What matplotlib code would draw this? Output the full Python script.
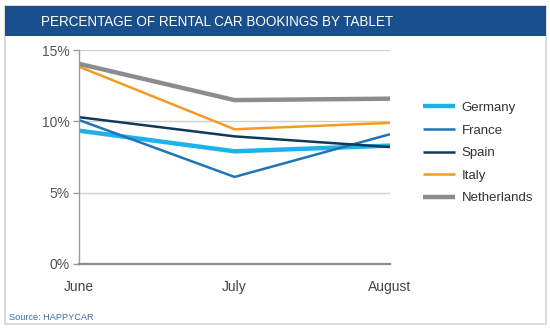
import matplotlib
matplotlib.use("Agg")
from matplotlib import pyplot as plt
from matplotlib.patches import Rectangle
from matplotlib.ticker import FuncFormatter

plt.rcParams['font.family'] = ['Liberation Sans', 'DejaVu Sans']

months = ["June", "July", "August"]
germany = [9.35, 7.9, 8.3]
france = [10.1, 6.1, 9.1]
spain = [10.3, 8.95, 8.2]
italy = [13.85, 9.45, 9.9]
netherlands = [14.05, 11.5, 11.6]

series = [
    ("Germany", germany, "#1fb2ea", 3.2),
    ("France", france, "#1f74b6", 1.8),
    ("Spain", spain, "#10395c", 1.8),
    ("Italy", italy, "#f59a23", 1.8),
    ("Netherlands", netherlands, "#8c8c8c", 3.2),
]

W, H = 550, 332
fig = plt.figure(figsize=(W / 100, H / 100), dpi=100)

# frame and title band (pixel coords converted to figure fractions)
def px_rect(x0, y0, x1, y1, **kw):
    r = Rectangle((x0 / W, 1 - y1 / H), (x1 - x0) / W, (y1 - y0) / H,
                  transform=fig.transFigure, zorder=-5, **kw)
    fig.patches.append(r)

px_rect(4.5, 6, 546, 324, facecolor="white", edgecolor="#d4d4d4", linewidth=1.2)
px_rect(4.5, 6, 546, 36, facecolor="#1a4f8e", edgecolor="none")
fig.text(41 / W, 1 - 22.5 / H, "PERCENTAGE OF RENTAL CAR BOOKINGS BY TABLET",
         color="white", fontsize=9.75, va="center", ha="left")
fig.text(9 / W, 1 - 317 / H, "Source: HAPPYCAR", color="#3a6ea8",
         fontsize=6.6, va="center", ha="left")

ax = fig.add_axes([79 / W, 1 - 263.7 / H, (390 - 79) / W, (263.7 - 50.3) / H])
ax.patch.set_visible(False)
x = list(range(len(months)))
for name, vals, color, lw in series:
    ax.plot(x, vals, color=color, linewidth=lw, label=name, solid_capstyle="butt")

ax.set_xlim(0, 2)
ax.set_ylim(0, 15)
ax.set_yticks([0, 5, 10, 15])
ax.yaxis.set_major_formatter(FuncFormatter(lambda v, p: f"{v:.0f}%"))
ax.set_xticks(x)
ax.set_xticklabels(months)
ax.grid(axis="y", color="#d0d0d0", linewidth=1)
ax.set_axisbelow(True)
for s in ["top", "right"]:
    ax.spines[s].set_visible(False)
ax.spines["left"].set_color("#9a9a9a")
ax.spines["left"].set_linewidth(1)
ax.spines["bottom"].set_color("#8a8a8a")
ax.spines["bottom"].set_linewidth(1.6)
ax.tick_params(axis="y", colors="#9a9a9a", labelcolor="#555555", labelsize=10,
               length=4, width=1, pad=3)
ax.tick_params(axis="x", length=0, labelcolor="#444444", labelsize=10, pad=12)

ax.legend(loc="center left", bbox_to_anchor=(418 / W, 1 - 153 / H),
          bbox_transform=fig.transFigure, frameon=False, fontsize=9.5,
          handlelength=2.4, handletextpad=0.5, labelspacing=0.78,
          labelcolor="#333333", borderaxespad=0)

fig.savefig("out.png", dpi=100)
